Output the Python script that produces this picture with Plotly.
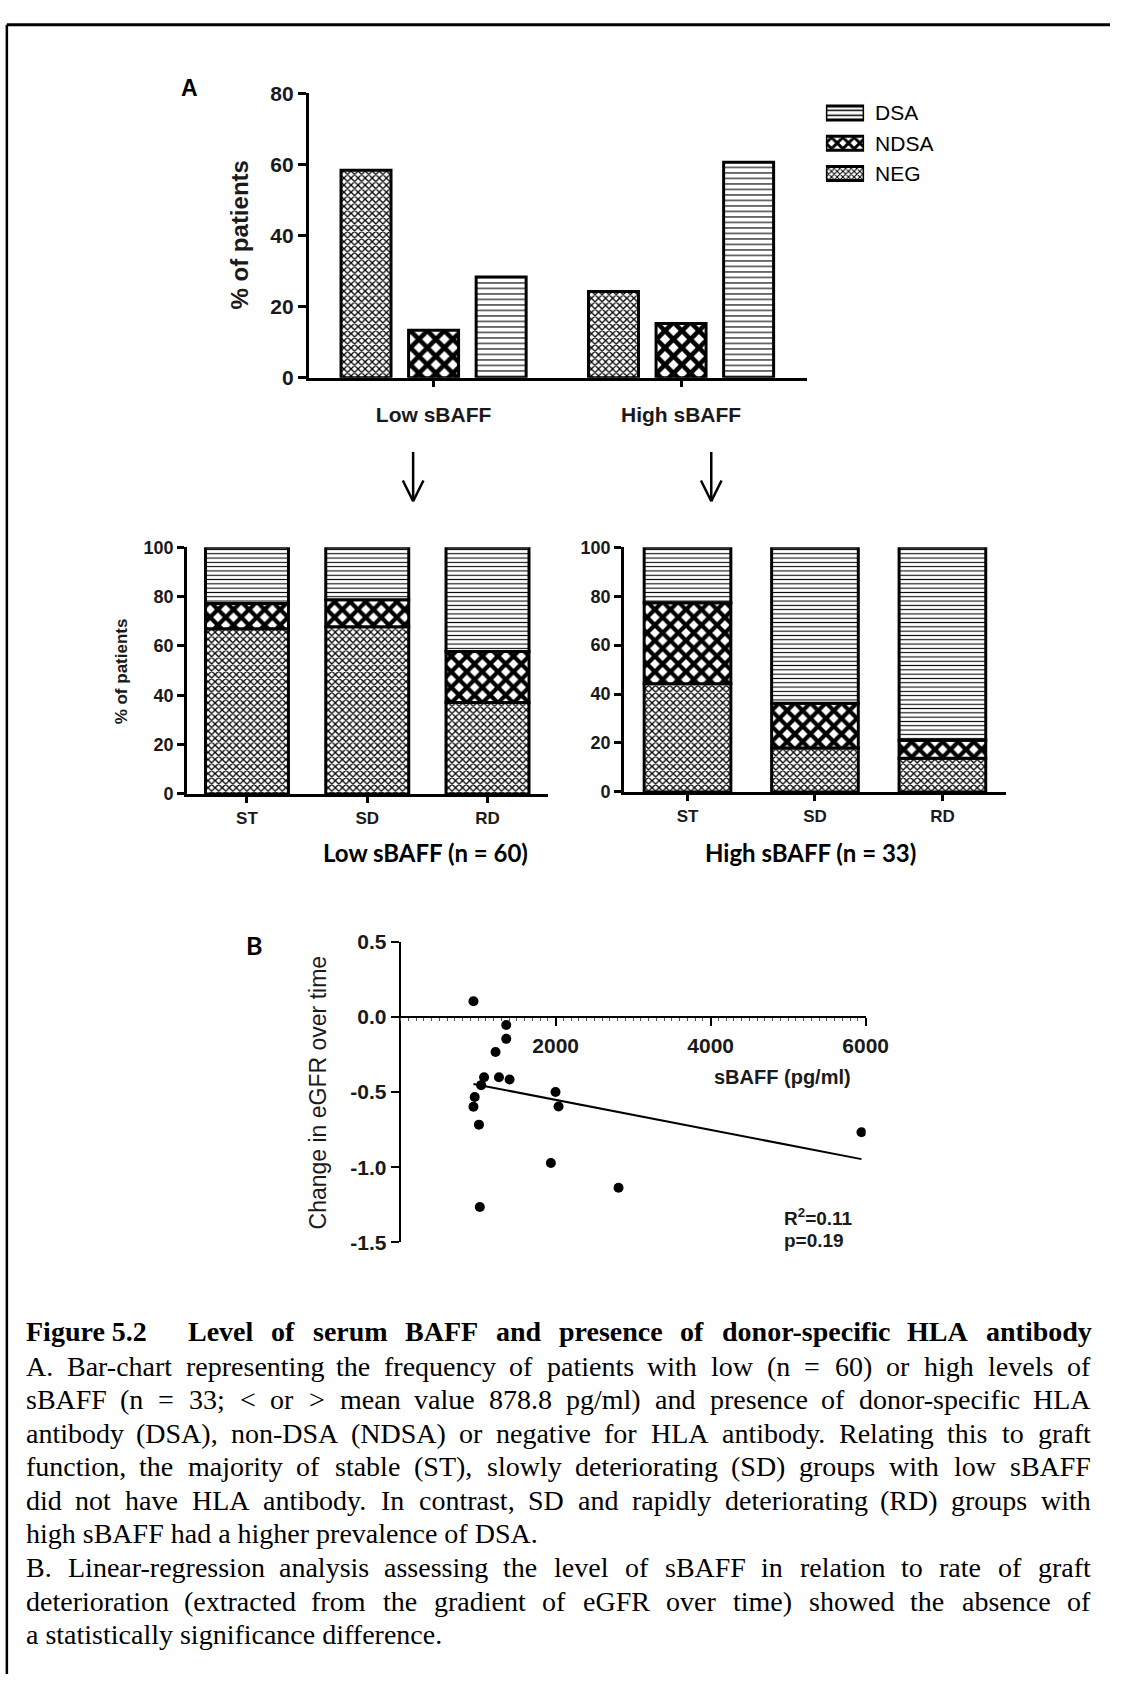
import plotly.graph_objects as go

W, H = 1133, 1685

# ---------------- data ----------------
groups = ["Low sBAFF", "High sBAFF"]
neg_pct = [58.3, 24.2]
ndsa_pct = [13.3, 15.2]
dsa_pct = [28.3, 60.6]

stages = ["ST", "SD", "RD"]
low_neg = [67.0, 67.8, 37.1]
low_ndsa = [10.2, 10.9, 20.6]
low_dsa = [22.8, 21.3, 42.3]
high_neg = [44.2, 17.9, 13.8]
high_ndsa = [33.1, 18.3, 7.3]
high_dsa = [22.7, 63.8, 78.9]

sbaff = [939, 1362, 1362, 1224, 1076, 1268, 1405, 1038, 955, 939, 1010, 1021,
         1998, 2037, 1938, 2811, 5946]
egfr_change = [0.104, -0.054, -0.146, -0.233, -0.402, -0.402, -0.417, -0.454,
               -0.533, -0.598, -0.717, -1.265, -0.500, -0.596, -0.972, -1.137, -0.767]
fit_slope = -1.0e-4
fit_intercept = -0.352
r_squared = "0.11"
p_value = "0.19"

legend_labels = ["DSA", "NDSA", "NEG"]
top_yticks = [0, 20, 40, 60, 80]
pct_yticks = [0, 20, 40, 60, 80, 100]
scatter_xticks = [2000, 4000, 6000]
scatter_yticks = [0.5, 0.0, -0.5, -1.0, -1.5]
scatter_yticktext = ["0.5", "0.0", "-0.5", "-1.0", "-1.5"]

caption_num = "Figure 5.2"
caption_title = "Level of serum BAFF and presence of donor-specific HLA antibody"
caption_lines = [
    ("A. Bar-chart representing the frequency of patients with low (n = 60) or high levels of", True),
    ("sBAFF (n = 33; < or > mean value 878.8 pg/ml) and presence of donor-specific HLA", True),
    ("antibody (DSA), non-DSA (NDSA) or negative for HLA antibody. Relating this to graft", True),
    ("function, the majority of stable (ST), slowly deteriorating (SD) groups with low sBAFF", True),
    ("did not have HLA antibody. In contrast, SD and rapidly deteriorating (RD) groups with", True),
    ("high sBAFF had a higher prevalence of DSA.", False),
    ("B. Linear-regression analysis assessing the level of sBAFF in relation to rate of graft", True),
    ("deterioration (extracted from the gradient of eGFR over time) showed the absence of", True),
    ("a statistically significance difference.", False),
]

# ---------------- helpers ----------------
SANS = "Liberation Sans"
SERIF = "Liberation Serif"
INK = "#1a1a1a"


def px(xp):
    return xp / W


def py(yp):
    return 1 - yp / H


def pattern_marker(shape, size, solidity):
    return dict(color="white", line=dict(color="black", width=3),
                pattern=dict(shape=shape, size=size, solidity=solidity,
                             fgcolor="black", bgcolor="white", fillmode="replace"))


PAT_TOP = {"NEG": ("x", 5, 0.45), "NDSA": ("x", 12, 0.62), "DSA": ("-", 5.5, 0.2)}
PAT_LOW = {"NEG": ("x", 5, 0.45), "NDSA": ("x", 11, 0.62), "DSA": ("-", 4.3, 0.25)}
PAT_KEY = {"NEG": ("x", 4, 0.45), "NDSA": ("x", 8, 0.6), "DSA": ("-", 5, 0.3)}

fig = go.Figure()

# ---------------- Panel A (top, grouped) ----------------
TOP_W, TOP_STEP = 0.202, 0.273
for i, (name, vals) in enumerate([("NEG", neg_pct), ("NDSA", ndsa_pct), ("DSA", dsa_pct)]):
    fig.add_trace(go.Bar(
        x=groups, y=vals, name=name, width=TOP_W,
        offset=(i - 1) * TOP_STEP - TOP_W / 2,
        marker=pattern_marker(*PAT_TOP[name]),
        xaxis="x", yaxis="y", hoverinfo="skip", showlegend=False))


# ---------------- stacked panels ----------------
def add_stack(neg, ndsa, dsa, xa, ya, width):
    base = [0.0] * len(stages)
    for name, vals in (("NEG", neg), ("NDSA", ndsa), ("DSA", dsa)):
        fig.add_trace(go.Bar(
            x=stages, y=vals, base=base, name=name, width=width, offset=-width / 2,
            marker=pattern_marker(*PAT_LOW[name]),
            xaxis=xa, yaxis=ya, hoverinfo="skip", showlegend=False))
        base = [b + v for b, v in zip(base, vals)]


add_stack(low_neg, low_ndsa, low_dsa, "x2", "y2", 0.69)
add_stack(high_neg, high_ndsa, high_dsa, "x3", "y3", 0.68)

# ---------------- legend key (pattern swatches on a small axis) ----------------
for name in legend_labels:
    fig.add_trace(go.Bar(
        y=[name], x=[1], orientation="h", name=name, width=0.46,
        marker=pattern_marker(*PAT_KEY[name]),
        xaxis="x5", yaxis="y5", hoverinfo="skip", showlegend=False))

# ---------------- Panel B scatter ----------------
fig.add_trace(go.Scatter(x=sbaff, y=egfr_change, mode="markers",
                         marker=dict(color="black", size=10),
                         xaxis="x4", yaxis="y4", showlegend=False, hoverinfo="skip"))
fit_x = [min(sbaff), max(sbaff)]
fit_y = [fit_intercept + fit_slope * v for v in fit_x]
fig.add_trace(go.Scatter(x=fit_x, y=fit_y, mode="lines",
                         line=dict(color="black", width=2),
                         xaxis="x4", yaxis="y4", showlegend=False, hoverinfo="skip"))


# ---------------- axes ----------------
def base_axis(fs, ticklen, lw=2.5, weight="bold"):
    return dict(showline=True, linecolor="black", linewidth=lw, ticks="outside",
                ticklen=ticklen, tickwidth=lw, tickcolor="black",
                tickfont=dict(family=SANS, size=fs, color=INK, weight=weight),
                showgrid=False, zeroline=False, fixedrange=True)


# top
xa1 = base_axis(21, 7)
xa1.update(domain=[px(315), px(824)], anchor="y", type="category",
           range=[-0.505, 1.51], ticklabelstandoff=9)
ya1 = base_axis(21, 8)
ya1.update(domain=[py(370.7), py(82.3)], anchor="x", range=[0, 80],
           tickvals=top_yticks)

# lower-left
xa2 = base_axis(17, 6)
xa2.update(domain=[px(190.7), px(559)], anchor="y2", type="category",
           range=[-0.5, 2.5], ticklabelstandoff=1)
ya2 = base_axis(18, 7)
ya2.update(domain=[py(792.7), py(542.7)], anchor="x2", range=[0, 100],
           tickvals=pct_yticks)

# lower-right
xa3 = base_axis(17, 6)
xa3.update(domain=[px(636.7), px(1027)], anchor="y3", type="category",
           range=[-0.5, 2.5], ticklabelstandoff=1)
ya3 = base_axis(18, 7)
ya3.update(domain=[py(790.7), py(542.7)], anchor="x3", range=[0, 100],
           tickvals=pct_yticks)

# scatter
y4_dom = [py(1247.3), py(942.7)]
y4_rng = [-1.5, 0.5]
zero_pos = y4_dom[0] + (0 - y4_rng[0]) / (y4_rng[1] - y4_rng[0]) * (y4_dom[1] - y4_dom[0])
xa4 = base_axis(21, 8, lw=2)
xa4.update(domain=[px(409), px(883.6)], anchor="free", position=zero_pos,
           range=[0, 6000], tickvals=scatter_xticks, ticklabelstandoff=2,
           minor=dict(ticks="outside", dtick=100, ticklen=3, tickwidth=1,
                      tickcolor="#555"))
ya4 = base_axis(21, 8, lw=2)
ya4.update(domain=y4_dom, anchor="x4", range=y4_rng,
           tickvals=scatter_yticks, ticktext=scatter_yticktext)

# legend key axes
xa5 = dict(domain=[px(843), px(882)], anchor="y5", range=[0, 1], visible=False,
           fixedrange=True)
ya5 = dict(domain=[py(179), py(87)], anchor="x5", type="category",
           categoryorder="array", categoryarray=legend_labels,
           range=[2.5, -0.5], side="right", showline=False, showgrid=False,
           zeroline=False, ticks="", ticklabelstandoff=10, fixedrange=True,
           tickfont=dict(family=SANS, size=21, color="black"))

fig.update_layout(
    width=W, height=H, margin=dict(l=0, r=0, t=0, b=0),
    paper_bgcolor="white", plot_bgcolor="white",
    barmode="overlay", showlegend=False,
    xaxis=xa1, yaxis=ya1, xaxis2=xa2, yaxis2=ya2,
    xaxis3=xa3, yaxis3=ya3, xaxis4=xa4, yaxis4=ya4,
    xaxis5=xa5, yaxis5=ya5,
)


# ---------------- annotations ----------------
def ann(text, x, y, size, family=SANS, weight="bold", angle=0, xanchor="center",
        color=INK):
    fig.add_annotation(text=text, x=px(x), y=py(y), xref="paper", yref="paper",
                       showarrow=False, xanchor=xanchor, yanchor="middle",
                       textangle=angle,
                       font=dict(family=family, size=size, color=color, weight=weight))


ann("A", 193, 77, 23, color="black")
ann("% of patients", 244, 226.5, 24, angle=-90)
ann("% of patients", 124, 668, 17, angle=-90)
ann("Low sBAFF (n = 60)", 434, 852, 24, family="Lato", color="black")
ann("High sBAFF (n = 33)", 827, 852, 24, family="Lato", color="black")
ann("B", 259, 946, 25, family="Lato", color="black")
ann("Change in eGFR over time", 325, 1095, 23, weight="normal", angle=-90)
ann("sBAFF (pg/ml)", 799, 1080, 20)
ann("R<sup>2</sup>=" + r_squared, 798, 1222, 19, xanchor="left")
ann("p=" + p_value, 798, 1246, 19, xanchor="left")

# arrows (decoration)
for ax_x in (421.7, 726):
    for (xa, ya, xb, yb) in [(ax_x, 446, ax_x, 496), (ax_x - 10.5, 475, ax_x, 496),
                             (ax_x + 10.5, 475, ax_x, 496)]:
        fig.add_shape(type="line", xref="paper", yref="paper",
                      x0=px(xa), y0=py(ya), x1=px(xb), y1=py(yb),
                      line=dict(color="black", width=2.5))

# frame
fig.add_shape(type="line", xref="paper", yref="paper", x0=px(7), y0=py(13),
              x1=1, y1=py(13), line=dict(color="black", width=3))
fig.add_shape(type="line", xref="paper", yref="paper", x0=px(7), y0=py(13),
              x1=px(7), y1=0, line=dict(color="black", width=2.5))

# ---------------- caption (justified via Times metrics) ----------------
TIMES = {' ': 250, '(': 333, ')': 333, ',': 250, '-': 333, '.': 250, '/': 278,
         ':': 278, ';': 278, '<': 564, '=': 564, '>': 564,
         'A': 722, 'B': 667, 'C': 667, 'D': 722, 'E': 611, 'F': 556, 'G': 722,
         'H': 722, 'I': 333, 'J': 389, 'K': 722, 'L': 611, 'M': 889, 'N': 722,
         'O': 722, 'P': 556, 'Q': 722, 'R': 667, 'S': 556, 'T': 611, 'U': 722,
         'V': 722, 'W': 944, 'X': 722, 'Y': 722, 'Z': 611,
         'a': 444, 'b': 500, 'c': 444, 'd': 500, 'e': 444, 'f': 333, 'g': 500,
         'h': 500, 'i': 278, 'j': 278, 'k': 500, 'l': 278, 'm': 778, 'n': 500,
         'o': 500, 'p': 500, 'q': 500, 'r': 333, 's': 389, 't': 278, 'u': 500,
         'v': 500, 'w': 722, 'x': 500, 'y': 500, 'z': 444}
TIMES_B = dict(TIMES)
TIMES_B.update({'A': 722, 'B': 667, 'F': 611, 'H': 778, 'L': 667, 'a': 500, 'b': 556,
                'd': 556, 'h': 556, 'm': 833, 'n': 556, 'p': 556, 'r': 444, 't': 333,
                'u': 556, 'e': 444, 'c': 444})


def esc(s):
    return s.replace("&", "&amp;").replace("<", "&lt;").replace(">", "&gt;")


def tw(s, table, fs):
    return sum(table.get(c, 500) for c in s) * fs / 1000.0


CAP_FS = 28
CAP_X0, CAP_X1 = 24, 1110


def caption_line(text, y, x0, x1, fs, bold=False, justify=True):
    weight = "bold" if bold else "normal"
    if not justify:
        fig.add_annotation(text=esc(text), x=px(x0), y=py(y), xref="paper", yref="paper",
                           showarrow=False, xanchor="left", yanchor="middle",
                           font=dict(family=SERIF, size=fs, color="black", weight=weight))
        return
    table = TIMES_B if bold else TIMES
    words = text.split(" ")
    widths = [tw(w, table, fs) for w in words]
    gap = (x1 - x0 - sum(widths)) / (len(words) - 1)
    x = x0
    for w, wd in zip(words, widths):
        fig.add_annotation(text=esc(w), x=px(x), y=py(y), xref="paper", yref="paper",
                           showarrow=False, xanchor="left", yanchor="middle",
                           font=dict(family=SERIF, size=fs, color="black", weight=weight))
        x += wd + gap


caption_line(caption_num, 1338, CAP_X0, CAP_X1, CAP_FS, bold=True, justify=False)
caption_line(caption_title, 1338, 190, CAP_X1, CAP_FS, bold=True, justify=True)
for k, (line, just) in enumerate(caption_lines):
    caption_line(line, 1373 + k * 34, CAP_X0, CAP_X1, CAP_FS, justify=just)

fig.write_html("out.html", include_plotlyjs=True)
